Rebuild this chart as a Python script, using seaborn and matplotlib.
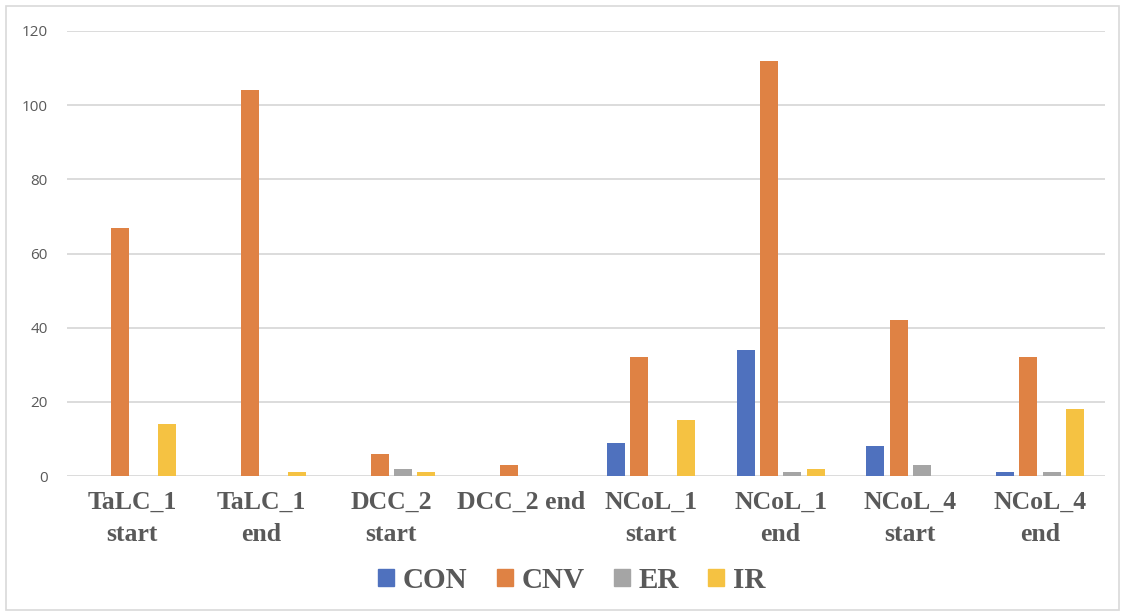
import pandas as pd
import numpy as np
import matplotlib.pyplot as plt
import matplotlib.patches as mpatches
import seaborn as sns

sns.set_style("white")

samples = ["TaLC_1\nstart", "TaLC_1\nend", "DCC_2\nstart", "DCC_2 end",
           "NCoL_1\nstart", "NCoL_1\nend", "NCoL_4\nstart", "NCoL_4\nend"]
series = ["CON", "CNV", "ER", "IR"]
con = [0, 0, 0, 0, 9, 34, 8, 1]
cnv = [67, 104, 6, 3, 32, 112, 42, 32]
er = [0, 0, 2, 0, 0, 1, 3, 1]
ir = [14, 1, 1, 0, 15, 2, 0, 18]
colors = ["#4F71BE", "#DF8244", "#A5A5A5", "#F5C242"]

df = pd.DataFrame({"sample": samples, "CON": con, "CNV": cnv, "ER": er, "IR": ir})
df = df.melt(id_vars="sample", var_name="series", value_name="count")

fig = plt.figure(figsize=(11.25, 6.16), dpi=100)
ax = fig.add_axes([67 / 1125, 1 - 476 / 616, (1105 - 67) / 1125, (476 - 31) / 616])

sns.barplot(data=df, x="sample", y="count", hue="series", hue_order=series,
            palette=colors, width=0.72, gap=0.23, saturation=1, linewidth=0, ax=ax)

ax.set_ylim(0, 120)
ax.set_yticks(range(0, 121, 20))
ax.yaxis.grid(True, color="#D9D9D9", linewidth=1.3)
ax.set_axisbelow(True)
for s in ax.spines.values():
    s.set_visible(False)
ax.set_xlabel("")
ax.set_ylabel("")
ax.tick_params(axis="both", length=0)
ax.tick_params(axis="x", pad=11)
ax.tick_params(axis="y", pad=14)

for lab in ax.get_xticklabels():
    lab.set_fontfamily(["Liberation Serif", "DejaVu Serif"])
    lab.set_fontweight("bold")
    lab.set_fontsize(18.5)
    lab.set_color("#595959")
    lab.set_linespacing(1.5)
for lab in ax.get_yticklabels():
    lab.set_fontfamily(["Open Sans", "DejaVu Sans"])
    lab.set_fontsize(11)
    lab.set_color("#595959")

ax.get_legend().remove()
handles = [mpatches.Patch(color=c, label=s) for c, s in zip(colors, series)]
fig.legend(handles=handles, loc="center", bbox_to_anchor=(0.508, 0.058), ncol=4,
           frameon=False, handlelength=0.55, handleheight=0.55, handletextpad=0.3,
           columnspacing=1.0,
           prop={"family": ["Liberation Serif"], "weight": "bold", "size": 21},
           labelcolor="#595959")

fig.patches.append(mpatches.Rectangle((6 / 1125, 6 / 616), 1 - 12 / 1125, 1 - 12 / 616,
                                      transform=fig.transFigure, fill=False,
                                      edgecolor="#D9D9D9", linewidth=1.2))

plt.savefig("out.png", dpi=100)
plt.close()
